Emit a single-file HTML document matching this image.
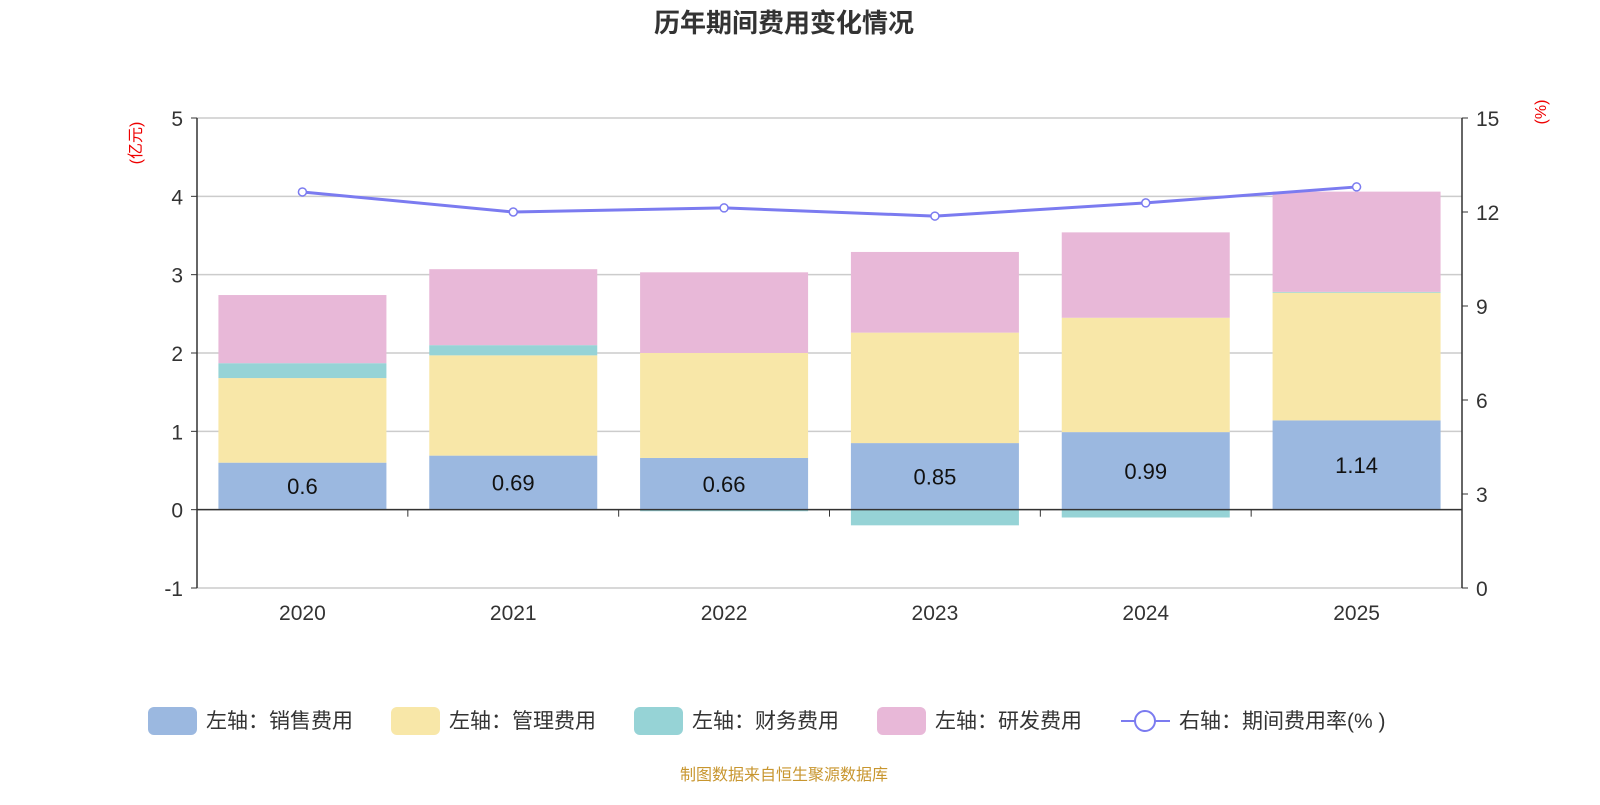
<!DOCTYPE html>
<html><head><meta charset="utf-8"><style>
body{margin:0;background:#fff;width:1600px;height:800px;overflow:hidden;font-family:"Liberation Sans","Noto Sans CJK SC",sans-serif}
</style></head><body>
<svg id="c" width="1600" height="800" xmlns="http://www.w3.org/2000/svg"
 font-family="Liberation Sans, Noto Sans CJK SC, sans-serif"></svg>
<script>
const categories=["2020","2021","2022","2023","2024","2025"];
const sales=[0.6,0.69,0.66,0.85,0.99,1.14];
const mgmt=[1.08,1.28,1.34,1.41,1.46,1.63];
const finance=[0.19,0.13,-0.02,-0.2,-0.1,0.01];
const rnd=[0.87,0.97,1.03,1.03,1.09,1.28];
const rate=[12.64,12.0,12.13,11.87,12.29,12.8];
const leftTicks=[-1,0,1,2,3,4,5];
const rightTicks=[0,3,6,9,12,15];
const NS="http://www.w3.org/2000/svg";
const svg=document.getElementById('c');
const X0=197,X1=1462,YT=118,YB=588;
const yL=v=>YB-(v+1)/6*(YB-YT);
const yR=v=>YB-v/15*(YB-YT);
const step=(X1-X0)/categories.length;
const xC=i=>X0+step*(i+0.5);
function el(t,a,txt){const e=document.createElementNS(NS,t);for(const k in a)e.setAttribute(k,a[k]);if(txt!==undefined)e.textContent=txt;svg.appendChild(e);return e;}
let e;
e=el('text',{x:784,y:32,'text-anchor':'middle','font-size':26,'font-weight':'bold',fill:'#333'},'历年期间费用变化情况');

leftTicks.forEach(v=>{
 e=el('line',{x1:X0,x2:X1,y1:yL(v),y2:yL(v),stroke:'#ccc','stroke-width':1.5});
 
 e=el('line',{x1:X0-6,x2:X0,y1:yL(v),y2:yL(v),stroke:'#333'});
 
 e=el('text',{x:X0-14,y:yL(v)+8,'text-anchor':'end','font-size':21,fill:'#333'},String(v));
 
});
rightTicks.forEach(v=>{
 e=el('line',{x1:X1,x2:X1+6,y1:yR(v),y2:yR(v),stroke:'#333'});
 
 e=el('text',{x:X1+14,y:yR(v)+8,'font-size':21,fill:'#333'},String(v));
 
});
e=el('text',{x:0,y:0,'font-size':16,fill:'#e00',transform:'translate(141,143) rotate(-90)','text-anchor':'middle'},'(亿元)');

e=el('text',{x:0,y:0,'font-size':16,fill:'#e00',transform:'translate(1546,112) rotate(-90)','text-anchor':'middle'},'(%)');

const bw=168;
categories.forEach((c,i)=>{
 let pos=0,neg=0;
 const series=[[sales,'#9bb8e0','bar-sales'],[mgmt,'#f8e7a8','bar-management'],[finance,'#96d3d6','bar-finance'],[rnd,'#e8b8d8','bar-rnd']];
 series.forEach(([arr,col,nm])=>{
  const v=arr[i];let y0,y1;
  if(v>=0){y0=yL(pos);pos+=v;y1=yL(pos);}else{y1=yL(neg);neg+=v;y0=yL(neg);}
  e=el('rect',{x:xC(i)-bw/2,y:Math.min(y0,y1),width:bw,height:Math.abs(y0-y1),fill:col});
  
 });
 e=el('text',{x:xC(i),y:(yL(0)+yL(sales[i]))/2+8,'text-anchor':'middle','font-size':22,fill:'#111'},String(sales[i]));
 
 e=el('text',{x:xC(i),y:620,'text-anchor':'middle','font-size':21,fill:'#333'},c);
 
});
e=el('line',{x1:X0,x2:X1,y1:yL(0),y2:yL(0),stroke:'#333','stroke-width':1.5});

for(let i=0;i<=categories.length;i++){
 e=el('line',{x1:X0+step*i,x2:X0+step*i,y1:yL(0),y2:yL(0)+7,stroke:'#333'});
 
}
e=el('line',{x1:X0,x2:X0,y1:YT,y2:YB,stroke:'#333','stroke-width':1.5});

e=el('line',{x1:X1,x2:X1,y1:YT,y2:YB,stroke:'#333','stroke-width':1.5});

e=el('polyline',{points:rate.map((v,i)=>xC(i)+','+yR(v)).join(' '),fill:'none',stroke:'#7b7bf0','stroke-width':3});

rate.forEach((v,i)=>{
 e=el('circle',{cx:xC(i),cy:yR(v),r:4,fill:'#fff',stroke:'#7b7bf0','stroke-width':1.5});
 
});
const leg=[[148,'#9bb8e0','左轴：销售费用'],[391,'#f8e7a8','左轴：管理费用'],[634,'#96d3d6','左轴：财务费用'],[877,'#e8b8d8','左轴：研发费用']];
leg.forEach(([x,col,t])=>{
 e=el('rect',{x:x,y:707,width:49,height:28,rx:6,fill:col});
 
 e=el('text',{x:x+58,y:728,'font-size':21,fill:'#333'},t);
 
});
e=el('line',{x1:1121,x2:1170,y1:721,y2:721,stroke:'#7b7bf0','stroke-width':2});

e=el('circle',{cx:1145,cy:721,r:10,fill:'#fff',stroke:'#7b7bf0','stroke-width':2});

e=el('text',{x:1179,y:728,'font-size':21,fill:'#333'},'右轴：期间费用率(% )');

e=el('text',{x:784,y:780,'text-anchor':'middle','font-size':16,fill:'#c8962f'},'制图数据来自恒生聚源数据库');

</script>
</body></html>
